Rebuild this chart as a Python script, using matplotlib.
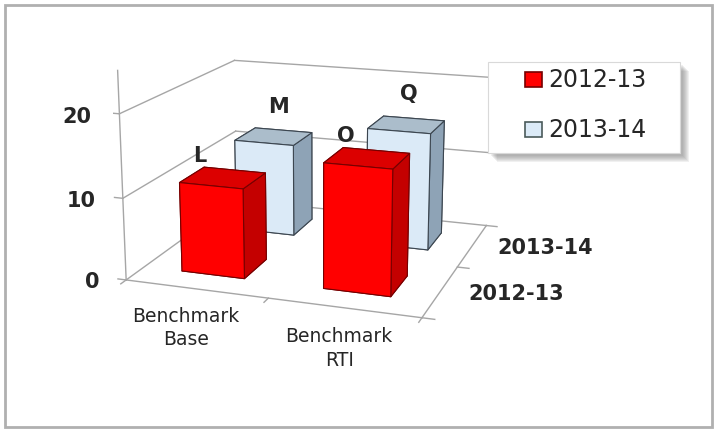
import matplotlib
matplotlib.use("Agg")
import matplotlib.pyplot as plt
from matplotlib.patches import Rectangle

# ---- data ----
categories = ["Benchmark\nBase", "Benchmark\nRTI"]
series_names = ["2012-13", "2013-14"]
values_2012 = [11, 15]
values_2013 = [12, 15]
labels_2012 = ["L", "O"]
labels_2013 = ["M", "Q"]
z_ticks = [0, 10, 20]
z_max = 25

# ---- styles ----
RED_FACES = {"front": "#ff0000", "side": "#c40000", "top": "#dc0000", "edge": "#760000"}
BLUE_FACES = {"front": "#dbeaf7", "side": "#8ea3b6", "top": "#abbdcb", "edge": "#3c4650"}
GRID = "#a6a6a6"
TEXT = "#262626"

W = 717
H = 433
fig = plt.figure(figsize=(W / 100, H / 100), dpi=100)

ax = fig.add_axes([0.105, 0.171, 0.66, 0.92], projection="3d", computed_zorder=False)
ax.set_proj_type("persp", focal_length=0.6)
ax.view_init(elev=15, azim=-71)
ax.set_xlim(0, 2)
ax.set_ylim(0, 2)
ax.set_zlim(0, z_max)
ax.set_box_aspect((1.0, 0.95, 0.70), zoom=1.1)
ax.set_axis_off()

n_cat = len(categories)
n_ser = len(series_names)

# walls: horizontal gridlines on the left side wall and the back wall
for z in z_ticks:
    ax.plot([0, 0], [0, n_ser], [z, z], color=GRID, lw=1.0, zorder=1)
    ax.plot([0, n_cat], [n_ser, n_ser], [z, z], color=GRID, lw=1.0, zorder=1)
    ax.plot([-0.06, 0], [0, 0], [z, z], color=GRID, lw=1.0, zorder=1)

# value axis line and floor edges
ax.plot([0, 0], [0, 0], [0, z_max], color=GRID, lw=1.0, zorder=1)
ax.plot([0, n_cat], [0, 0], [0, 0], color=GRID, lw=1.0, zorder=1)
ax.plot([n_cat, n_cat], [0, n_ser], [0, 0], color=GRID, lw=1.0, zorder=1)
for i in range(n_cat + 1):
    ax.plot([i, i], [0, -0.08], [0, 0], color=GRID, lw=1.0, zorder=1)
for j in range(n_ser + 1):
    ax.plot([n_cat, n_cat + 0.08], [j, j], [0, 0], color=GRID, lw=1.0, zorder=1)

bar_w = 0.45
bar_d = 0.42


def face_colors(c):
    # bar3d face order: bottom, top, front(-y), back(+y), left(-x), right(+x)
    return [c["side"], c["top"], c["front"], c["side"], c["side"], c["side"]]


series = [
    (values_2013, labels_2013, BLUE_FACES, 1),
    (values_2012, labels_2012, RED_FACES, 0),
]
zo = 2
for vals, labs, style, j in series:
    for i, v in enumerate(vals):
        x0 = i + 0.5 - bar_w / 2
        y0 = j + 0.5 - bar_d / 2
        ax.bar3d(x0, y0, 0, bar_w, bar_d, v, color=face_colors(style),
                 edgecolor=style["edge"], linewidth=0.8, shade=False, zorder=zo)
        zo += 1
        # near-row labels sit over the front-left of the bar, far-row over its back
        if j == 0:
            lx_anchor, ly_anchor, lz = i + 0.42, y0, v + 2.2
        else:
            lx_anchor, ly_anchor, lz = i + 0.46, y0 + bar_d, v + 1.8
        ax.text(lx_anchor, ly_anchor, lz, labs[i], ha="center", va="bottom",
                fontsize=15, fontweight="bold", color=TEXT, zorder=zo + 10)

# value tick labels
for z in z_ticks:
    ax.text(-0.2, 0, z - 0.7, str(z), ha="right", va="center", fontsize=15,
            fontweight="bold", color=TEXT, zorder=20)

# category labels
for i, c in enumerate(categories):
    ax.text(i + 0.57, -0.32, 0, c, ha="center", va="top", fontsize=13.5,
            color=TEXT, linespacing=1.3, zorder=20)

# series labels along the depth axis
for j, s in enumerate(series_names):
    ax.text(n_cat + 0.18, j + 0.5, 0, s, ha="left", va="center", fontsize=15,
            fontweight="bold", color=TEXT, zorder=20)

# legend box with soft shadow (figure pixel coordinates)
def px_rect(x, y, w, h, **kw):
    return Rectangle((x / W, 1 - (y + h) / H), w / W, h / H,
                     transform=fig.transFigure, **kw)

lx, ly, lw, lh = 488, 62, 192, 91
for k in range(7, 0, -1):
    fig.patches.append(px_rect(lx + 2 + k, ly + 2 + k, lw, lh,
                               facecolor="#7a7a7a", edgecolor="none",
                               alpha=0.11, zorder=30))
fig.patches.append(px_rect(lx, ly, lw, lh, facecolor="white",
                           edgecolor="#d9d9d9", lw=0.8, zorder=31))
entries = [(series_names[0], RED_FACES["front"], RED_FACES["edge"], 80),
           (series_names[1], BLUE_FACES["front"], "#4a5a5a", 130)]
for name, fc, ec, cy in entries:
    fig.patches.append(px_rect(525, cy - 8, 17, 15, facecolor=fc,
                               edgecolor=ec, lw=1.2, zorder=32))
    fig.text(548 / W, 1 - cy / H, name, ha="left", va="center",
             fontsize=17, color=TEXT, zorder=33)

# outer chart frame
fig.patches.append(px_rect(5, 5, 707, 422, facecolor="none",
                           edgecolor="#b0b0b0", lw=2.0, zorder=40))

fig.savefig("out.png", dpi=100)
